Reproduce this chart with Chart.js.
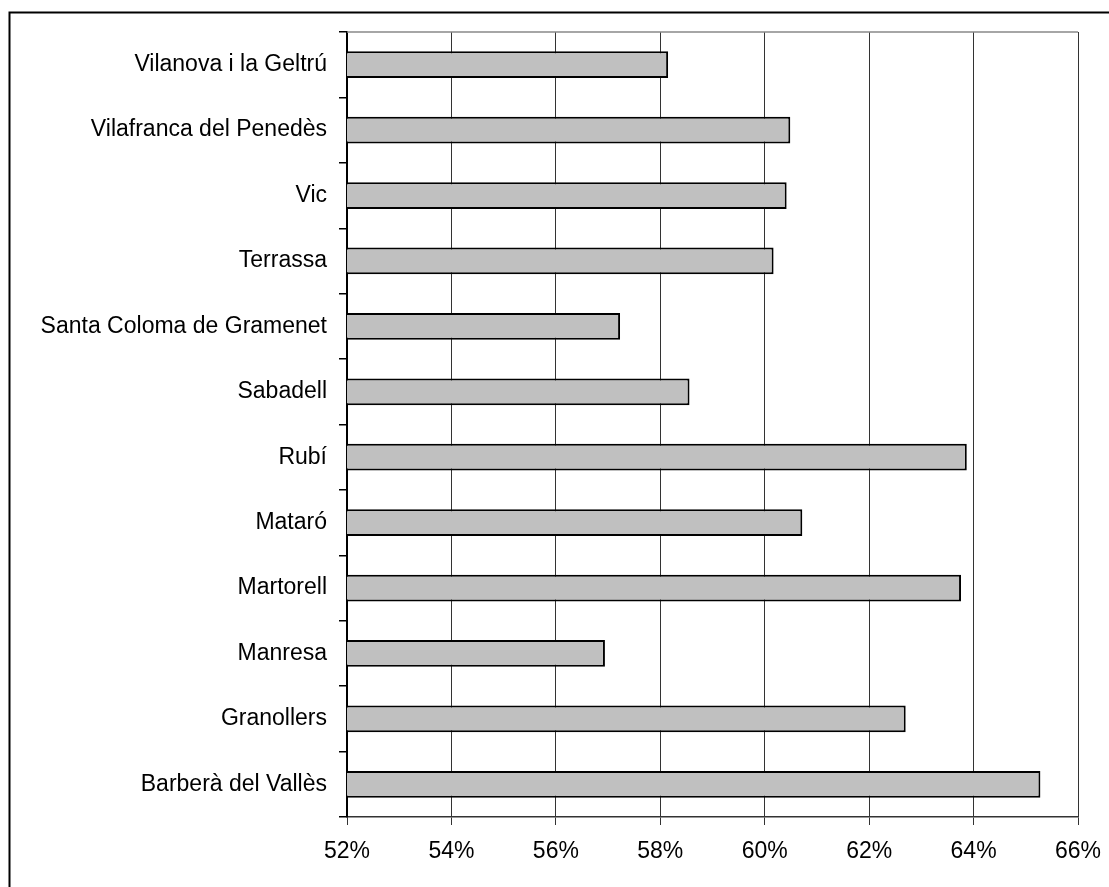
<!DOCTYPE html>
<html>
<head>
<meta charset="utf-8">
<script src="https://cdn.jsdelivr.net/npm/chart.js@4/dist/chart.umd.min.js"></script>
<style>
  html, body { margin: 0; padding: 0; background: #fff; }
  #wrap { position: relative; width: 1109px; height: 887px; }
</style>
</head>
<body>
<div id="wrap"><canvas id="myChart"></canvas></div>
<script>
// categories, bottom to top as in the original sheet
const towns = [
  "Barberà del Vallès", "Granollers", "Manresa", "Martorell", "Mataró", "Rubí",
  "Sabadell", "Santa Coloma de Gramenet", "Terrassa", "Vic",
  "Vilafranca del Penedès", "Vilanova i la Geltrú"
];
// share in %
const shares = [65.28, 62.70, 56.94, 63.76, 60.72, 63.87, 58.56, 57.23, 60.17, 60.42, 60.49, 58.15];
const xMin = 52, xMax = 66, xStep = 2;

const FONT = "'Liberation Sans', Arial, sans-serif";

// outer frame + grey plot border
const frame = {
  id: "frame",
  beforeDatasetsDraw(chart) {
    const { ctx, chartArea: a } = chart;
    ctx.save();
    ctx.strokeStyle = "#888";
    ctx.lineWidth = 1.5;
    ctx.beginPath();
    ctx.moveTo(a.left, a.top);
    ctx.lineTo(a.right, a.top);
    ctx.stroke();
    ctx.restore();
  },
  afterDraw(chart) {
    const ctx = chart.ctx;
    ctx.save();
    ctx.strokeStyle = "#000";
    ctx.lineWidth = 2;
    ctx.beginPath();
    ctx.moveTo(9.5, 2000);
    ctx.lineTo(9.5, 12.5);
    ctx.lineTo(2000, 12.5);
    ctx.stroke();
    ctx.restore();
  }
};

new Chart("myChart", {
  type: "bar",
  data: {
    labels: towns,
    datasets: [{
      data: shares,
      backgroundColor: "#c0c0c0",
      borderColor: "#000",
      borderWidth: 2,
      borderSkipped: false,
      barPercentage: 0.41,
      categoryPercentage: 1.0
    }]
  },
  options: {
    indexAxis: "y",
    responsive: true,
    maintainAspectRatio: false,
    animation: false,
    layout: { padding: { left: 0, top: 32, right: 31, bottom: 0 } },
    plugins: { legend: { display: false }, tooltip: { enabled: false } },
    scales: {
      x: {
        min: xMin,
        max: xMax,
        afterFit(axis) {
          axis.height = 70;
          axis.paddingLeft = 0;
          axis.paddingRight = 0;
        },
        ticks: {
          stepSize: xStep,
          padding: 13,
          color: "#000",
          font: { family: FONT, size: 23 },
          callback: v => v + "%"
        },
        grid: { color: "#333", lineWidth: 1, tickLength: 8, tickColor: "#333" },
        border: { color: "#333", width: 1.5 }
      },
      y: {
        reverse: true,
        afterFit(axis) { axis.width = 347; },
        ticks: {
          padding: 12,
          color: "#000",
          font: { family: FONT, size: 23 }
        },
        grid: { drawOnChartArea: false, offset: true, tickLength: 8, tickColor: "#000", lineWidth: 1.5 },
        border: { color: "#000", width: 2 }
      }
    }
  },
  plugins: [frame]
});
</script>
</body>
</html>
